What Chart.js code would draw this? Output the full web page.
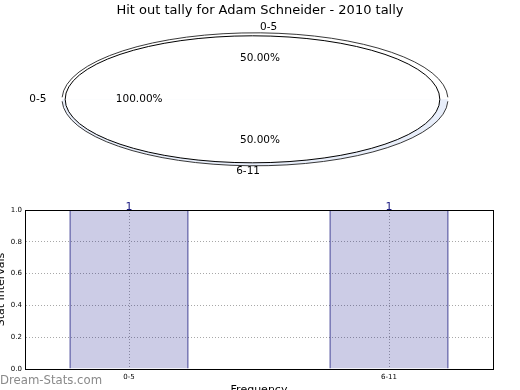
<!DOCTYPE html>
<html>
<head>
<meta charset="utf-8">
<script src="https://cdn.jsdelivr.net/npm/chart.js@4.4.0/dist/chart.umd.min.js"></script>
<style>
  html, body { margin: 0; padding: 0; width: 520px; height: 390px; overflow: hidden; background: #fff; }
  #pieChart { position: absolute; left: 0; top: 0; }
  #barChart { position: absolute; left: 0; top: 195px; }
  .mark { position: absolute; left: 0; top: 372px; line-height: 14px; font: 13px "DejaVu Sans Condensed", "Liberation Sans", sans-serif; color: #8a8a8a; }
</style>
</head>
<body>
<canvas id="pieChart" width="520" height="195"></canvas>
<canvas id="barChart" width="520" height="210"></canvas>
<div class="mark">Dream-Stats.com</div>
<script>
// DATA - pie
const pieLabels = ["0-5", "0-5", "6-11"];
const pieValues = [0, 1, 1];
const piePercents = ["100.00%", "50.00%", "50.00%"];
const pieRimColors = ["#ffffff", "#ffffff", "#e8eefa"];

// DATA - bars
const categories = ["0-5", "6-11"];
const counts = [1, 1];

Chart.defaults.font.family = "'DejaVu Sans', sans-serif";
Chart.defaults.color = "#000";

//Pie is drawn as a flat ellipse with a thin rim
const X_STRETCH = 2.95;
const FACE_DX = -7.5;
const RIM_DX = -5;
const RIM_X = 1.03;
const RIM_Y = 1.047;

function faceTransform(ctx, arc) {
  ctx.translate(arc.x + FACE_DX, arc.y);
  ctx.scale(X_STRETCH, 1);
  ctx.translate(-arc.x, -arc.y);
}

function rimTransform(ctx, arc) {
  ctx.translate(arc.x + RIM_DX, arc.y);
  ctx.scale(X_STRETCH * RIM_X, RIM_Y);
  ctx.translate(-arc.x, -arc.y);
}

const ellipsePie = {
  id: "ellipsePie",
  beforeDatasetsDraw(chart) {
    const ctx = chart.ctx;
    const arcs = chart.getDatasetMeta(0).data;
    arcs.forEach((arc, i) => {
      if (arc.circumference <= 0) return;
      ctx.save();
      rimTransform(ctx, arc);
      ctx.beginPath();
      ctx.moveTo(arc.x, arc.y);
      ctx.arc(arc.x, arc.y, arc.outerRadius, arc.startAngle, arc.endAngle);
      ctx.closePath();
      ctx.fillStyle = pieRimColors[i];
      ctx.fill();
      ctx.beginPath();
      ctx.arc(arc.x, arc.y, arc.outerRadius, arc.startAngle + 0.03, arc.endAngle - 0.03);
      ctx.restore();
      ctx.strokeStyle = "#222";
      ctx.lineWidth = 0.9;
      ctx.stroke();
    });
    ctx.save();
    faceTransform(ctx, arcs[0]);
  },
  afterDatasetsDraw(chart) {
    const ctx = chart.ctx;
    ctx.restore();
    const arc = chart.getDatasetMeta(0).data[0];
    ctx.save();
    faceTransform(ctx, arc);
    ctx.beginPath();
    ctx.arc(arc.x, arc.y, arc.outerRadius, 0, Math.PI * 2);
    ctx.restore();
    ctx.strokeStyle = "#000";
    ctx.lineWidth = 1;
    ctx.stroke();
  },
  afterDraw(chart) {
    const ctx = chart.ctx;
    const arcs = chart.getDatasetMeta(0).data;
    ctx.save();
    ctx.font = "10.5px 'DejaVu Sans'";
    ctx.fillStyle = "#000";
    ctx.textBaseline = "middle";
    arcs.forEach((arc, i) => {
      const mid = (arc.startAngle + arc.endAngle) / 2;
      const c = Math.cos(mid), s = Math.sin(mid);
      const rx = arc.outerRadius * X_STRETCH, ry = arc.outerRadius;
      let align;
      if (c > 1e-9) align = "left";
      else if (c < -1e-9) align = "right";
      else align = s < 0 ? "left" : "right";
      ctx.textAlign = align;
      ctx.fillText(pieLabels[i], arc.x + c * rx * 1.14, arc.y + s * ry * 1.14);
      ctx.textAlign = "center";
      ctx.fillText(piePercents[i], arc.x + c * rx * 0.645, arc.y + s * ry * 0.645);
    });
    ctx.restore();
  },
};

const pieChart = new Chart(document.getElementById("pieChart"), {
  type: "pie",
  data: {
    labels: pieLabels,
    datasets: [
      {
        data: pieValues,
        backgroundColor: "#ffffff",
        borderWidth: 0,
      },
    ],
  },
  options: {
    responsive: false,
    animation: false,
    events: [],
    rotation: 270,
    radius: 63.5,
    layout: { padding: { top: 0, right: 0, bottom: 15, left: 0 } },
    plugins: {
      legend: { display: false },
      tooltip: { enabled: false },
      title: {
        display: true,
        text: "Hit out tally for Adam Schneider - 2010 tally",
        color: "#000",
        font: { size: 13, weight: "normal" },
        padding: { top: 3, bottom: 0 },
      },
    },
  },
  plugins: [ellipsePie],
});

//Bar chart: frame and value labels
const barExtras = {
  id: "barExtras",
  afterDatasetsDraw(chart) {
    const ctx = chart.ctx;
    const bars = chart.getDatasetMeta(0).data;
    ctx.save();
    ctx.font = "11px 'DejaVu Sans'";
    ctx.fillStyle = "#1a1a80";
    ctx.textAlign = "center";
    ctx.textBaseline = "alphabetic";
    bars.forEach((bar, i) => {
      ctx.fillText(String(counts[i]), bar.x, bar.y);
    });
    ctx.restore();
  },
  afterDraw(chart) {
    const { ctx, chartArea: a } = chart;
    ctx.save();
    ctx.strokeStyle = "#000";
    ctx.lineWidth = 1;
    ctx.strokeRect(Math.round(a.left) + 0.5, Math.round(a.top) + 0.5, Math.round(a.right - a.left), Math.round(a.bottom - a.top));
    ctx.restore();
  },
};

const barChart = new Chart(document.getElementById("barChart"), {
  type: "bar",
  data: {
    datasets: [
      {
        data: counts.map((v, i) => ({ x: i, y: v })),
        backgroundColor: "rgba(0, 0, 128, 0.2)",
        borderColor: "#000070",
        borderWidth: 1,
        barPercentage: 0.458,
        categoryPercentage: 1,
      },
    ],
  },
  options: {
    responsive: false,
    animation: false,
    events: [],
    layout: { padding: { top: 15, right: 27, bottom: 6, left: -5 } },
    plugins: {
      legend: { display: false },
      tooltip: { enabled: false },
    },
    scales: {
      x: {
        type: "linear",
        min: -0.4,
        max: 1.4,
        offset: false,
        afterBuildTicks(scale) {
          scale.ticks = categories.map((c, i) => ({ value: i }));
        },
        afterFit(scale) {
          scale.height = 30;
        },
        ticks: {
          callback: (v) => categories[v],
          font: { size: 7 },
          padding: 4,
          maxRotation: 0,
          autoSkip: false,
        },
        grid: { color: "#a8a8a8", drawTicks: false, offset: false },
        border: { color: "#000", dash: [1, 2] },
        title: {
          display: true,
          text: "Frequency",
          font: { size: 11 },
          padding: { top: 0, bottom: 2 },
        },
      },
      y: {
        min: 0,
        max: 1,
        afterFit(scale) {
          scale.width = 30;
        },
        ticks: {
          stepSize: 0.2,
          callback: (v) => v.toFixed(1),
          font: { size: 7 },
          padding: 3,
        },
        grid: { color: "#a8a8a8", drawTicks: false },
        border: { color: "#000", dash: [1, 2] },
        title: {
          display: true,
          text: "Stat Intervals",
          font: { size: 11 },
          padding: 0,
        },
      },
    },
  },
  plugins: [barExtras],
});
</script>
</body>
</html>
